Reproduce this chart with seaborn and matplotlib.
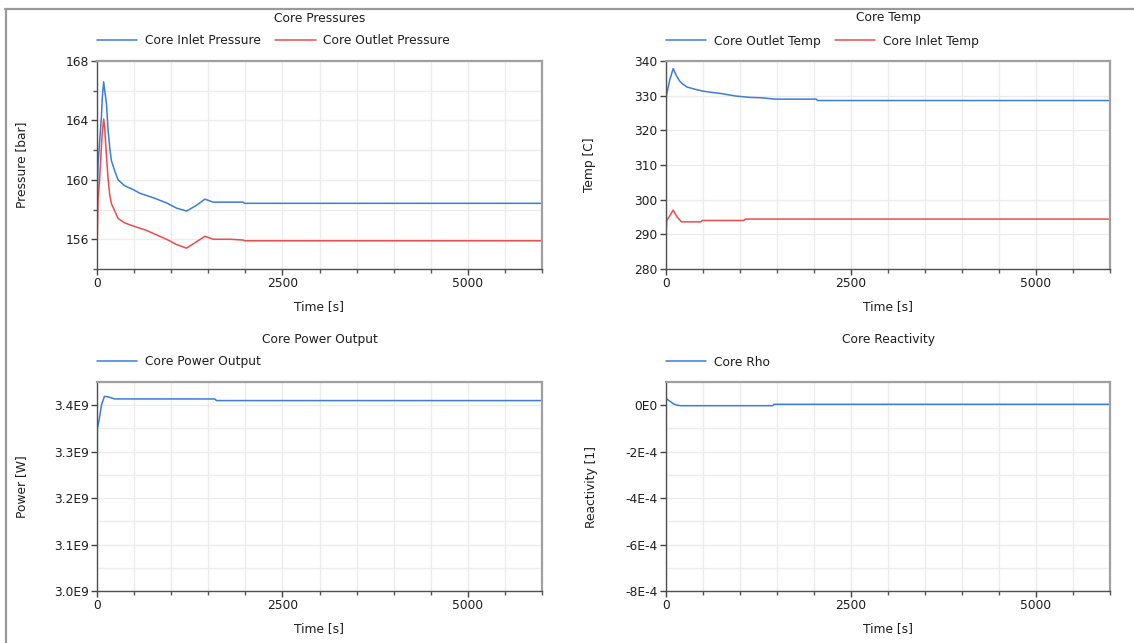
import numpy as np
import pandas as pd
import matplotlib
matplotlib.use("Agg")
import matplotlib.pyplot as plt
import seaborn as sns
from matplotlib.ticker import MultipleLocator, FuncFormatter
from matplotlib.lines import Line2D

# ---------------- data ----------------
t_pres = [0, 14, 36, 59, 72, 90, 104, 126, 149, 171, 194, 239, 284, 374, 486, 577, 667,
          757, 937, 1072, 1207, 1330, 1455, 1568, 1800, 1970, 1990, 3000, 4000, 5000, 6000]
p_inlet = [158.0, 161.0, 162.6, 164.2, 165.6, 166.6, 166.0, 165.2, 163.4, 162.2, 161.3, 160.6,
           160.0, 159.6, 159.35, 159.1, 158.95, 158.8, 158.45, 158.1, 157.9, 158.25, 158.7,
           158.5, 158.5, 158.5, 158.42, 158.42, 158.42, 158.42, 158.42]
p_outlet = [155.2, 158.6, 160.1, 162.2, 163.2, 164.1, 163.5, 161.7, 160.1, 159.0, 158.4, 157.9,
            157.4, 157.1, 156.9, 156.75, 156.6, 156.4, 156.0, 155.65, 155.4, 155.8, 156.2,
            156.0, 156.0, 155.95, 155.9, 155.9, 155.9, 155.9, 155.9]

t_tout = [0, 5, 20, 50, 97, 140, 185, 230, 283, 400, 500, 600, 750, 940, 1135, 1280, 1480,
          1700, 2030, 2050, 3000, 4000, 5000, 6000]
temp_outlet = [317.0, 330.0, 331.5, 334.5, 337.8, 335.8, 334.2, 333.3, 332.5, 331.8, 331.3,
               331.0, 330.6, 329.9, 329.5, 329.4, 329.0, 329.0, 329.0, 328.6, 328.6, 328.6,
               328.6, 328.6]
t_tin = [0, 10, 50, 97, 150, 210, 300, 470, 490, 1050, 1070, 3000, 6000]
temp_inlet = [290.3, 294.0, 295.3, 297.0, 295.0, 293.6, 293.6, 293.6, 294.0, 294.0, 294.4,
              294.4, 294.4]

t_pow = [0, 5, 25, 60, 100, 150, 237, 500, 1000, 1590, 1610, 3000, 6000]
power = [3.03e9, 3.35e9, 3.365e9, 3.40e9, 3.419e9, 3.418e9, 3.4136e9, 3.4135e9, 3.4135e9,
         3.4135e9, 3.410e9, 3.410e9, 3.410e9]

t_rho = [0, 3, 50, 100, 150, 200, 1440, 1460, 3000, 6000]
rho = [-6.9e-4, 0.28e-4, 0.18e-4, 0.06e-4, 0.0, -0.02e-4, -0.02e-4, 0.04e-4, 0.04e-4, 0.04e-4]

titles = ["Core Pressures", "Core Temp", "Core Power Output", "Core Reactivity"]
ylabels = ["Pressure [bar]", "Temp [C]", "Power [W]", "Reactivity [1]"]
xlabel = "Time [s]"

BLUE = "#3b7dd8"
RED = "#ef4b4b"
TXT = "#1e1e1e"

# ---------------- style ----------------
sns.set_theme(style="white")
plt.rcParams["font.family"] = ["DejaVu Sans"]
FS = 8.8

W, H = 1134, 643
fig = plt.figure(figsize=(W / 100, H / 100), dpi=100)

def px_axes(left, top, right, bottom):
    return fig.add_axes([left / W, (H - bottom) / H, (right - left) / W, (bottom - top) / H])

axes = [px_axes(97, 61, 542, 269), px_axes(666, 61, 1110, 269),
        px_axes(97, 382, 542, 591), px_axes(666, 382, 1110, 591)]

# window frame lines
fig.add_artist(Line2D([5 / W, 1.0], [1 - 8.5 / H, 1 - 8.5 / H], color="#9a9a9a", lw=1.6))
fig.add_artist(Line2D([5.5 / W, 5.5 / W], [0, 1 - 8.5 / H], color="#9a9a9a", lw=1.6))

def draw(ax, t, y, color, label):
    df = pd.DataFrame({"t": t, "v": y})
    sns.lineplot(data=df, x="t", y="v", ax=ax, color=color, lw=1.1, label=label,
                 estimator=None, sort=False)

draw(axes[0], t_pres, p_inlet, BLUE, "Core Inlet Pressure")
draw(axes[0], t_pres, p_outlet, RED, "Core Outlet Pressure")
draw(axes[1], t_tout, temp_outlet, BLUE, "Core Outlet Temp")
draw(axes[1], t_tin, temp_inlet, RED, "Core Inlet Temp")
draw(axes[2], t_pow, power, BLUE, "Core Power Output")
draw(axes[3], t_rho, rho, BLUE, "Core Rho")

ylims = [(154, 168), (280, 340), (3.0e9, 3.45e9), (-8e-4, 1e-4)]
ymaj = [4, 10, 0.1e9, 2e-4]
ymin = [2, 10, 0.05e9, 1e-4]
ylab_x = [(97 - 22) / 445, (666 - 590) / 444, (97 - 22) / 445, (666 - 591) / 444]

def fmt_pow(v, pos):
    return f"{v / 1e9:.1f}E9"

def fmt_rho(v, pos):
    n = int(round(v / 1e-4))
    return "0E0" if n == 0 else f"{n}E-4"

for i, ax in enumerate(axes):
    ax.set_xlim(0, 6000)
    ax.set_ylim(*ylims[i])
    ax.xaxis.set_major_locator(MultipleLocator(2500))
    ax.xaxis.set_minor_locator(MultipleLocator(500))
    ax.yaxis.set_major_locator(MultipleLocator(ymaj[i]))
    ax.yaxis.set_minor_locator(MultipleLocator(ymin[i]))
    if i == 2:
        ax.yaxis.set_major_formatter(FuncFormatter(fmt_pow))
    elif i == 3:
        ax.yaxis.set_major_formatter(FuncFormatter(fmt_rho))
    ax.grid(True, which="both", color="#ececec", lw=1.0)
    ax.set_axisbelow(True)
    ax.tick_params(which="major", direction="out", length=4, width=1, color="#444444",
                   labelsize=FS, labelcolor=TXT, pad=2, left=True, bottom=True)
    ax.tick_params(axis="x", which="minor", direction="out", length=3, width=1,
                   color="#555555", bottom=True)
    ax.tick_params(axis="y", which="minor", direction="out",
                   length=3 if i == 0 else 0, width=1, color="#555555", left=True)
    for s in ["left", "bottom"]:
        ax.spines[s].set_color("#505050")
        ax.spines[s].set_linewidth(1.0)
    for s in ["top", "right"]:
        ax.spines[s].set_color("#a0a0a0")
        ax.spines[s].set_linewidth(1.6)
    ax.set_xlabel(xlabel, fontsize=FS, color=TXT, va="center")
    ax.set_ylabel(ylabels[i], fontsize=FS, color=TXT, va="center")
    h_ax = 208 if i < 2 else 209
    ax.xaxis.set_label_coords(0.5, -38 / h_ax)
    ax.yaxis.set_label_coords(-ylab_x[i], 0.5)
    ax.annotate(titles[i], xy=(0.5, 1), xycoords="axes fraction",
                xytext=(0, (43 if i < 2 else 42) * 0.72), textcoords="offset points",
                ha="center", va="center", fontsize=FS, color=TXT)
    ax.legend(loc="center left", bbox_to_anchor=(0, 1 + 20 / h_ax), ncol=2, frameon=False,
              fontsize=FS, borderpad=0, borderaxespad=0, handlelength=3.3,
              handletextpad=0.6, columnspacing=1.2, labelcolor=TXT)

fig.savefig("out.png", dpi=100, facecolor="white")
